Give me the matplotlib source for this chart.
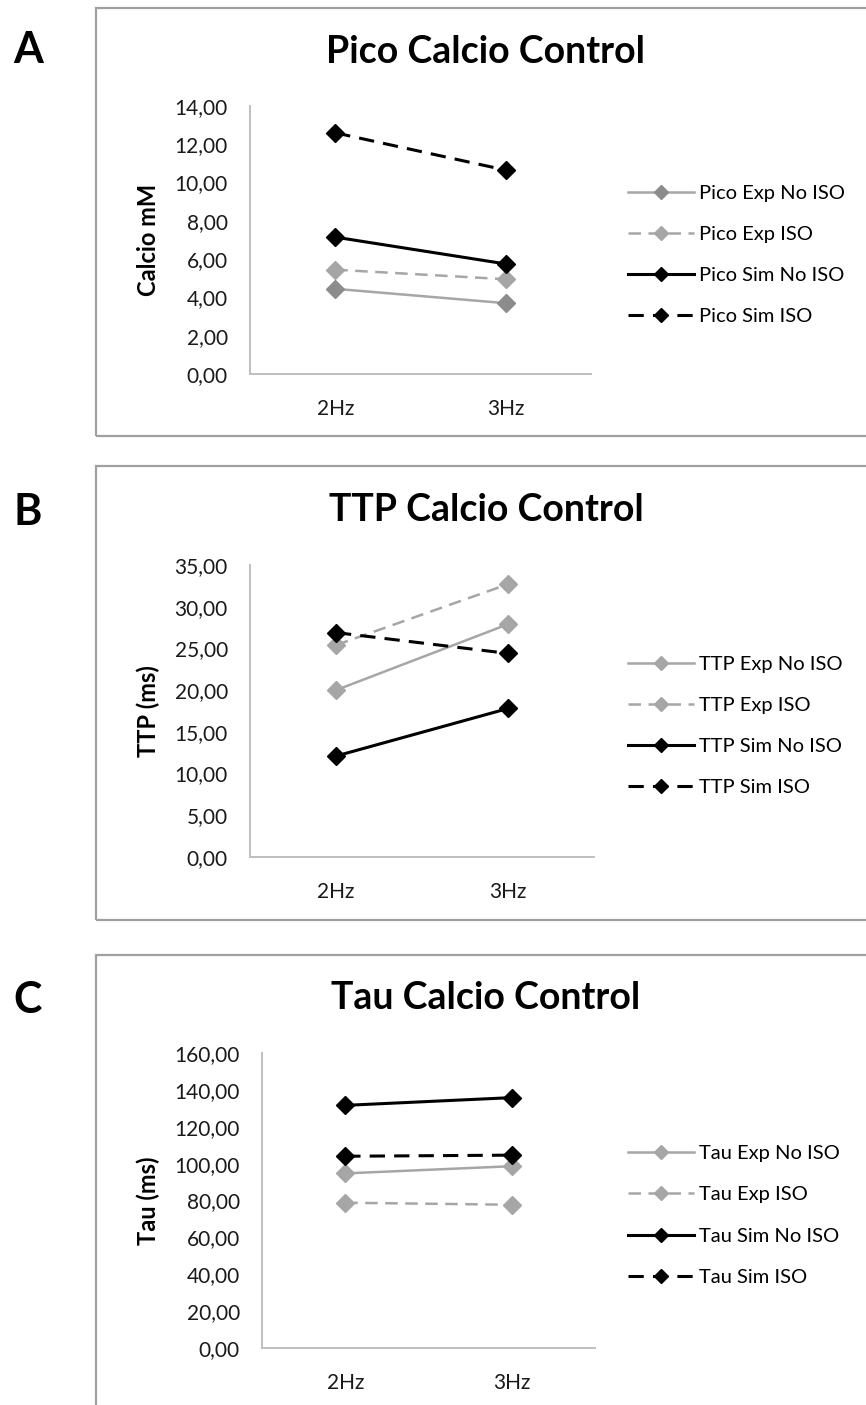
import matplotlib
matplotlib.use("Agg")
import matplotlib.pyplot as plt
from matplotlib.patches import Rectangle
from matplotlib.ticker import FuncFormatter, MultipleLocator

# categories and values
categories = ["2Hz", "3Hz"]

pico_exp_no_iso = [4.45, 3.70]
pico_exp_iso = [5.45, 4.95]
pico_sim_no_iso = [7.15, 5.75]
pico_sim_iso = [12.60, 10.65]

ttp_exp_no_iso = [20.0, 27.9]
ttp_exp_iso = [25.4, 32.7]
ttp_sim_no_iso = [12.1, 17.8]
ttp_sim_iso = [26.9, 24.4]

tau_exp_no_iso = [94.7, 98.6]
tau_exp_iso = [78.8, 77.7]
tau_sim_no_iso = [131.6, 135.8]
tau_sim_iso = [104.0, 104.6]

W, H = 866, 1405
plt.rcParams["font.family"] = ["Lato", "DejaVu Sans"]

fig = plt.figure(figsize=(W / 100, H / 100), dpi=100)

GRAY = "#A6A6A6"
AXIS_GRAY = "#BFBFBF"


def fx(px):
    return px / W


def fy(py):
    return 1 - py / H


def comma_fmt(v, pos):
    return f"{v:.2f}".replace(".", ",")


def draw_panel(letter, title, ylabel, prefix, series, ymax, step,
               box_top, box_bottom, ax_left, ax_right, ax_top, ax_bottom,
               exp_marker_color, title_y, letter_y):
    # outer gray frame (runs off the right / bottom edge like the original)
    fig.add_artist(Rectangle((fx(96), fy(box_bottom)), fx(W + 20 - 96),
                             (box_bottom - box_top) / H,
                             transform=fig.transFigure, fill=False,
                             edgecolor="#A0A0A0", linewidth=1.6))

    ax = fig.add_axes([fx(ax_left), fy(ax_bottom), fx(ax_right - ax_left),
                       (ax_bottom - ax_top) / H])
    x = list(range(len(categories)))
    styles = [
        dict(color=GRAY, ls="-", lw=1.8, mfc=exp_marker_color, mec=exp_marker_color),
        dict(color=GRAY, ls=(0, (5, 3)), lw=1.8, mfc=GRAY, mec=GRAY),
        dict(color="black", ls="-", lw=2.2, mfc="black", mec="black"),
        dict(color="black", ls=(0, (5, 3)), lw=2.2, mfc="black", mec="black"),
    ]
    names = ["Exp No ISO", "Exp ISO", "Sim No ISO", "Sim ISO"]
    handles = []
    for vals, st, name in zip(series, styles, names):
        h, = ax.plot(x, vals, marker="D", markersize=9, label=f"{prefix} {name}", **st)
        handles.append(h)

    ax.set_xlim(-0.5, len(categories) - 0.5)
    ax.set_ylim(0, ymax)
    ax.set_xticks(x)
    ax.set_xticklabels(categories)
    ax.yaxis.set_major_locator(MultipleLocator(step))
    ax.yaxis.set_major_formatter(FuncFormatter(comma_fmt))
    ax.tick_params(length=0, labelsize=15, colors="#1a1a1a")
    ax.tick_params(axis="y", pad=16)
    ax.tick_params(axis="x", pad=18)
    for s in ["top", "right"]:
        ax.spines[s].set_visible(False)
    for s in ["left", "bottom"]:
        ax.spines[s].set_color(AXIS_GRAY)
        ax.spines[s].set_linewidth(1.4)
    ax.patch.set_alpha(0)

    fig.text(fx(148), fy((ax_top + ax_bottom) / 2), ylabel, rotation=90,
             ha="center", va="center", fontsize=17, fontweight="bold")
    fig.text(fx(486), fy(title_y), title, ha="center", va="center",
             fontsize=27, fontweight="bold")
    fig.text(fx(28), fy(letter_y), letter, ha="center", va="center",
             fontsize=31, fontweight="bold")

    fig.legend(handles=handles, loc="center left",
               bbox_to_anchor=(fx(628), fy((ax_top + ax_bottom) / 2 + 15)),
               bbox_transform=fig.transFigure, frameon=False,
               fontsize=14.5, handlelength=3.3, handletextpad=0.25,
               labelspacing=1.2, borderpad=0, borderaxespad=0,
               markerscale=0.75)
    return ax


draw_panel("A", "Pico Calcio Control", "Calcio mM", "Pico",
           [pico_exp_no_iso, pico_exp_iso, pico_sim_no_iso, pico_sim_iso],
           14, 2, 8, 436, 250, 591, 106, 374, "#8C8C8C", 52, 50)

draw_panel("B", "TTP Calcio Control", "TTP (ms)", "TTP",
           [ttp_exp_no_iso, ttp_exp_iso, ttp_sim_no_iso, ttp_sim_iso],
           35, 5, 466, 920, 250, 594, 565, 857, GRAY, 510, 512)

draw_panel("C", "Tau Calcio Control", "Tau (ms)", "Tau",
           [tau_exp_no_iso, tau_exp_iso, tau_sim_no_iso, tau_sim_iso],
           160, 20, 955, H + 20, 262, 595, 1053, 1348, GRAY, 998, 1000)

fig.savefig("out.png", dpi=100)
